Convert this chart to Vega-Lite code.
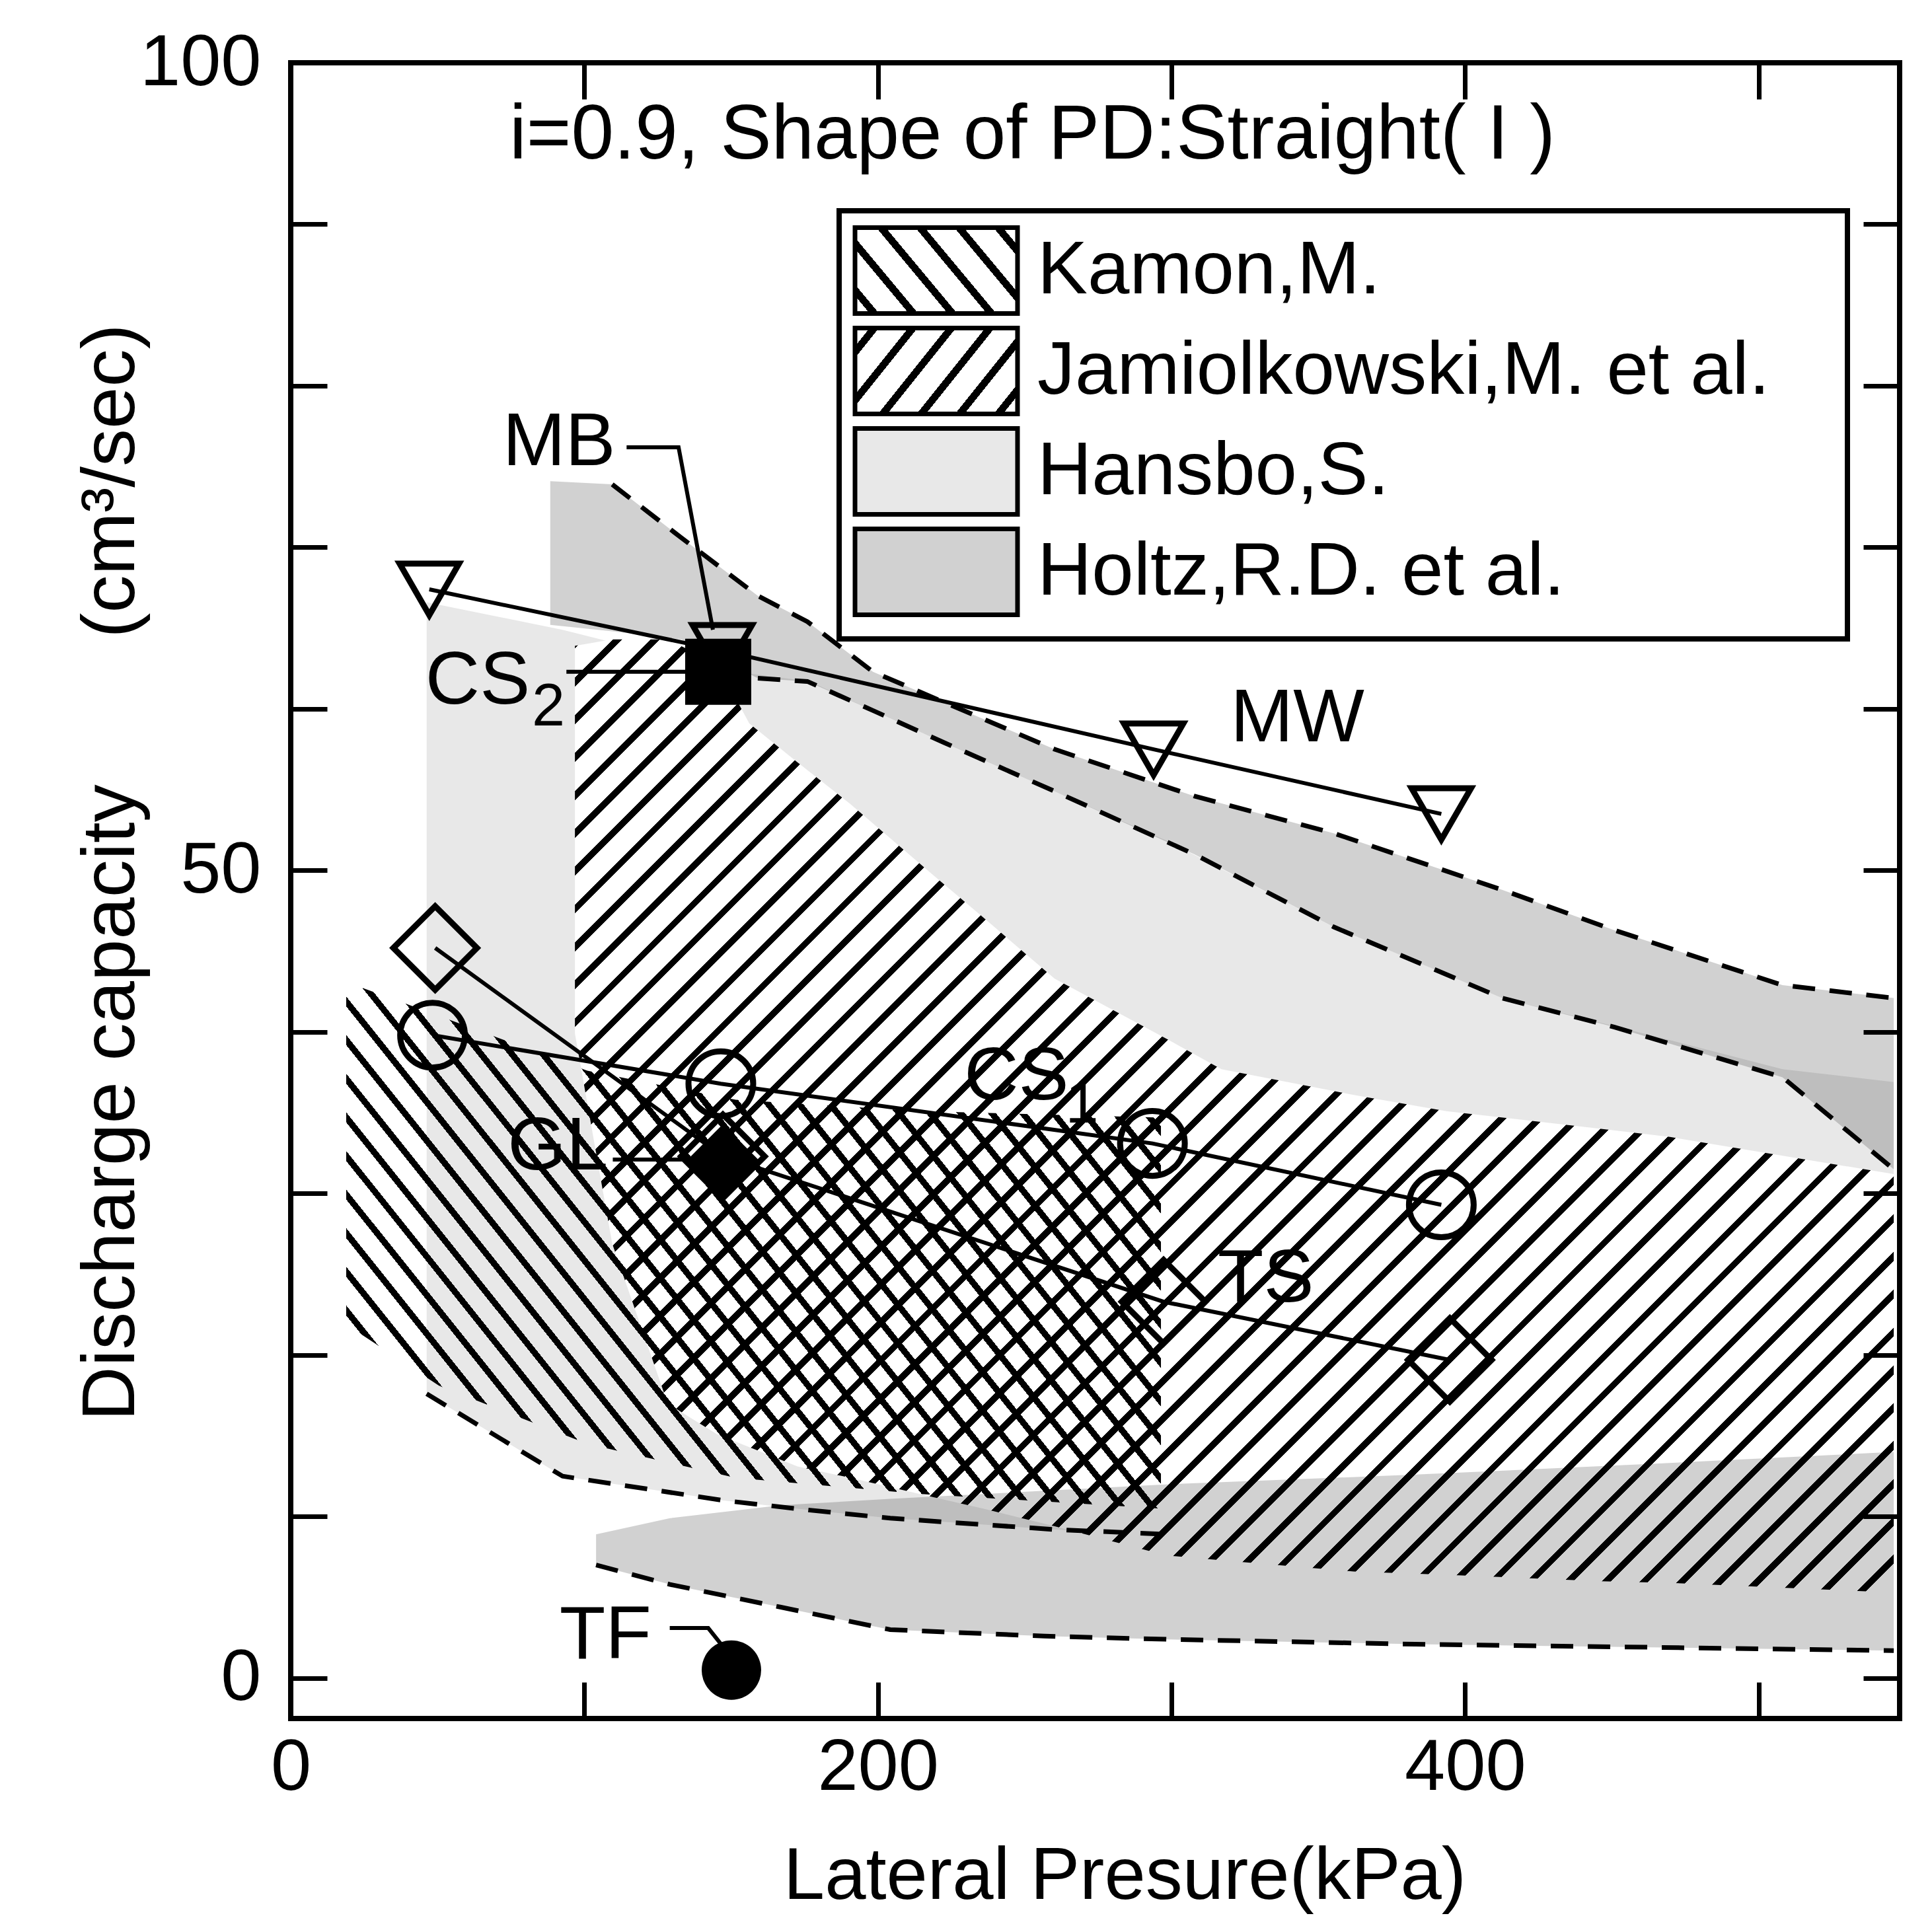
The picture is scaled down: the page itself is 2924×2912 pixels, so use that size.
{
"$schema":"https://vega.github.io/schema/vega-lite/v6.json",
"width":2435,"height":2506,
"autosize":{"type":"none"},
"padding":{"left":440,"top":95,"right":49,"bottom":311},
"background":"white",
"config":{"font":"Liberation Sans","view":{"stroke":"black","strokeWidth":8},"axis":{"labelColor":"black","titleColor":"black","tickColor":"black","labelFont":"Liberation Sans","titleFont":"Liberation Sans","titleFontWeight":"normal","grid":false,"domain":false,"labelLimit":1000}},
"datasets":{
"hansbo":[{"x":46.3,"top":66.6,"bottom":17.6},{"x":92.6,"top":64.9,"bottom":12.5},{"x":147.4,"top":62.4,"bottom":11.0},{"x":176.8,"top":61.7,"bottom":10.4},{"x":204.2,"top":59.4,"bottom":9.9},{"x":260.2,"top":54.9,"bottom":9.2},{"x":298.9,"top":51.8,"bottom":8.9},{"x":355.3,"top":46.5,"bottom":8.3},{"x":412.6,"top":42.1,"bottom":7.9},{"x":469.8,"top":39.5,"bottom":7.6},{"x":508.1,"top":37.7,"bottom":7.4},{"x":546.0,"top":36.9,"bottom":7.2}],
"holtzU":[{"x":88.4,"top":74.1,"bottom":65.2},{"x":109.5,"top":73.9,"bottom":64.8},{"x":133.0,"top":70.6,"bottom":64.3},{"x":159.1,"top":67.0,"bottom":61.9},{"x":176.0,"top":65.4,"bottom":61.7},{"x":198.3,"top":62.3,"bottom":59.9},{"x":222.7,"top":60.4,"bottom":57.9},{"x":260.2,"top":57.5,"bottom":54.9},{"x":307.8,"top":54.6,"bottom":51.0},{"x":355.3,"top":52.3,"bottom":46.5},{"x":412.6,"top":48.8,"bottom":42.1},{"x":450.9,"top":46.3,"bottom":40.3},{"x":508.1,"top":42.9,"bottom":37.2},{"x":546.0,"top":42.1,"bottom":31.5}],
"jamiol":[{"x":96.8,"top":63.9,"bottom":39.9},{"x":109.5,"top":64.3,"bottom":26.9},{"x":128.4,"top":64.3,"bottom":17.0},{"x":145.2,"top":62.8,"bottom":15.1},{"x":156.2,"top":59.1,"bottom":14.3},{"x":172.6,"top":56.7,"bottom":13.1},{"x":190.7,"top":54.1,"bottom":12.4},{"x":218.9,"top":49.7,"bottom":11.2},{"x":235.8,"top":47.1,"bottom":10.5},{"x":260.2,"top":43.3,"bottom":9.4},{"x":298.1,"top":39.6,"bottom":7.6},{"x":317.0,"top":37.7,"bottom":7.3},{"x":362.1,"top":36.1,"bottom":6.6},{"x":393.6,"top":35.1,"bottom":6.4},{"x":446.3,"top":34.0,"bottom":6.0},{"x":469.8,"top":33.5,"bottom":5.9},{"x":546.0,"top":31.2,"bottom":5.3}],
"holtzL":[{"x":104.0,"top":8.9,"bottom":7.0},{"x":129.2,"top":9.9,"bottom":5.8},{"x":166.7,"top":10.7,"bottom":4.4},{"x":204.2,"top":11.1,"bottom":3.0},{"x":256.8,"top":11.6,"bottom":2.6},{"x":298.9,"top":12.0,"bottom":2.4},{"x":383.1,"top":12.6,"bottom":2.1},{"x":467.3,"top":13.3,"bottom":1.9},{"x":546.0,"top":14.0,"bottom":1.7}],
"kamon":[{"author":"Kamon,M.","x":18.9,"top":43.1,"bottom":21.9},{"author":"Kamon,M.","x":50.5,"top":41.0,"bottom":18.1},{"author":"Kamon,M.","x":101.0,"top":37.6,"bottom":14.5},{"author":"Kamon,M.","x":151.6,"top":35.8,"bottom":12.4},{"author":"Kamon,M.","x":214.7,"top":35.1,"bottom":11.4},{"author":"Kamon,M.","x":296.4,"top":34.7,"bottom":10.5}],
"series":[{"s":"MW","x":47.2,"y":67.4},{"s":"MW","x":147,"y":63.6},{"s":"MW","x":293.9,"y":57.5},{"s":"MW","x":391.9,"y":53.5},{"s":"CS1","x":48.3,"y":39.8},{"s":"CS1","x":146.5,"y":36.8},{"s":"CS1","x":293.5,"y":33.1},{"s":"CS1","x":391.9,"y":29.3},{"s":"TS","x":49.2,"y":45.2},{"s":"TS","x":147.2,"y":32.3},{"s":"TS","x":297.3,"y":23.3},{"s":"TS","x":394.8,"y":19.7},{"s":"MB","x":145.6,"y":62.3},{"s":"GL","x":147.2,"y":32.0},{"s":"TF","x":150.1,"y":0.5}],
"pointers":[{"id":"MB","o":1,"x":114.4,"y":76.2},{"id":"MB","o":2,"x":132.1,"y":76.2},{"id":"MB","o":3,"x":143.8,"y":64.9},{"id":"CS2","o":1,"x":93.9,"y":62.3},{"id":"CS2","o":2,"x":135.7,"y":62.3},{"id":"GL","o":1,"x":109.7,"y":32.1},{"id":"GL","o":2,"x":134.5,"y":32.1},{"id":"TF","o":1,"x":129.1,"y":3.1},{"id":"TF","o":2,"x":142.2,"y":3.1},{"id":"TF","o":3,"x":147.9,"y":1.8}],
"labels":[{"t":"MB","x":91.4,"y":76.5},{"t":"CS","x":63.7,"y":61.7},{"t":"MW","x":342.9,"y":59.4},{"t":"CS","x":247.2,"y":37.2},{"t":"GL","x":91.0,"y":32.9},{"t":"TS","x":332.1,"y":24.7},{"t":"TF","x":107.2,"y":2.6}],
"subs":[{"t":"2","x":87.8,"y":60.1},{"t":"1","x":269.5,"y":35.5}],
"title":[{"t":"i=0.9, Shape of PD:Straight( I )","x":252.6,"y":95.5}]
},
"resolve":{"axis":{"x":"independent","y":"independent"}},
"layer":[
{"data":{"name":"hansbo"},
"mark":{"type":"area","fill":"#e8e8e8","opacity":1},
"encoding":{
"x":{"field":"x","type":"quantitative","scale":{"domain":[0,548],"nice":false,"zero":false},"axis":{"orient":"bottom","values":[0,200,400],"ticks":false,"domain":false,"labelFontSize":110,"labelPadding":20,"labelFlush":false,"labelOverlap":false,"title":"Lateral Presure(kPa)","titleFontSize":112,"titleX":1262,"titleY":272,"titleAlign":"center","titleBaseline":"alphabetic"}},
"y":{"field":"top","type":"quantitative","scale":{"domain":[-2.5,100],"nice":false,"zero":false},"axis":{"orient":"left","values":[0,50,100],"ticks":false,"domain":false,"labelFontSize":110,"labelPadding":45,"labelFlush":false,"labelOverlap":false,"title":"Discharge capacity\u00a0\u00a0\u00a0\u00a0\u00a0\u00a0\u00a0(cm\u00b3/sec)","titleFontSize":114,"titleX":-272,"titleY":1225,"titleAngle":-90,"titleAlign":"center","titleBaseline":"middle"}},
"y2":{"field":"bottom"}}},
{"data":{"name":"holtzU"},
"mark":{"type":"area","fill":"rgba(0,0,0,0.18)","opacity":1},
"encoding":{
"x":{"field":"x","type":"quantitative","scale":{"domain":[0,548],"nice":false,"zero":false},"axis":{"orient":"bottom","values":[100,200,300,400,500],"labels":false,"domain":false,"ticks":true,"tickSize":55,"tickWidth":7,"offset":-55,"title":null,"zindex":1}},
"y":{"field":"top","type":"quantitative","scale":{"domain":[-2.5,100],"nice":false,"zero":false},"axis":{"orient":"left","values":[0,10,20,30,40,50,60,70,80,90],"labels":false,"domain":false,"ticks":true,"tickSize":55,"tickWidth":7,"offset":-55,"title":null,"zindex":1}},
"y2":{"field":"bottom"}}},
{"data":{"name":"jamiol"},
"mark":{"type":"area","opacity":1,"fill":{"gradient":"linear","x1":0,"y1":0,"x2":1.1316,"y2":0.8178,"stops":[
{"offset":0,"color":"#000"},{"offset":0.004,"color":"#000"},{"offset":0.004,"color":"#fff"},{"offset":0.0167,"color":"#fff"},
{"offset":0.0167,"color":"#000"},{"offset":0.0207,"color":"#000"},{"offset":0.0207,"color":"#fff"},{"offset":0.0333,"color":"#fff"},
{"offset":0.0333,"color":"#000"},{"offset":0.0373,"color":"#000"},{"offset":0.0373,"color":"#fff"},{"offset":0.05,"color":"#fff"},
{"offset":0.05,"color":"#000"},{"offset":0.054,"color":"#000"},{"offset":0.054,"color":"#fff"},{"offset":0.0667,"color":"#fff"},
{"offset":0.0667,"color":"#000"},{"offset":0.0707,"color":"#000"},{"offset":0.0707,"color":"#fff"},{"offset":0.0833,"color":"#fff"},
{"offset":0.0833,"color":"#000"},{"offset":0.0873,"color":"#000"},{"offset":0.0873,"color":"#fff"},{"offset":0.1,"color":"#fff"},
{"offset":0.1,"color":"#000"},{"offset":0.104,"color":"#000"},{"offset":0.104,"color":"#fff"},{"offset":0.1167,"color":"#fff"},
{"offset":0.1167,"color":"#000"},{"offset":0.1207,"color":"#000"},{"offset":0.1207,"color":"#fff"},{"offset":0.1333,"color":"#fff"},
{"offset":0.1333,"color":"#000"},{"offset":0.1373,"color":"#000"},{"offset":0.1373,"color":"#fff"},{"offset":0.15,"color":"#fff"},
{"offset":0.15,"color":"#000"},{"offset":0.154,"color":"#000"},{"offset":0.154,"color":"#fff"},{"offset":0.1667,"color":"#fff"},
{"offset":0.1667,"color":"#000"},{"offset":0.1707,"color":"#000"},{"offset":0.1707,"color":"#fff"},{"offset":0.1833,"color":"#fff"},
{"offset":0.1833,"color":"#000"},{"offset":0.1873,"color":"#000"},{"offset":0.1873,"color":"#fff"},{"offset":0.2,"color":"#fff"},
{"offset":0.2,"color":"#000"},{"offset":0.204,"color":"#000"},{"offset":0.204,"color":"#fff"},{"offset":0.2167,"color":"#fff"},
{"offset":0.2167,"color":"#000"},{"offset":0.2207,"color":"#000"},{"offset":0.2207,"color":"#fff"},{"offset":0.2333,"color":"#fff"},
{"offset":0.2333,"color":"#000"},{"offset":0.2373,"color":"#000"},{"offset":0.2373,"color":"#fff"},{"offset":0.25,"color":"#fff"},
{"offset":0.25,"color":"#000"},{"offset":0.254,"color":"#000"},{"offset":0.254,"color":"#fff"},{"offset":0.2667,"color":"#fff"},
{"offset":0.2667,"color":"#000"},{"offset":0.2707,"color":"#000"},{"offset":0.2707,"color":"#fff"},{"offset":0.2833,"color":"#fff"},
{"offset":0.2833,"color":"#000"},{"offset":0.2873,"color":"#000"},{"offset":0.2873,"color":"#fff"},{"offset":0.3,"color":"#fff"},
{"offset":0.3,"color":"#000"},{"offset":0.304,"color":"#000"},{"offset":0.304,"color":"#fff"},{"offset":0.3167,"color":"#fff"},
{"offset":0.3167,"color":"#000"},{"offset":0.3207,"color":"#000"},{"offset":0.3207,"color":"#fff"},{"offset":0.3333,"color":"#fff"},
{"offset":0.3333,"color":"#000"},{"offset":0.3373,"color":"#000"},{"offset":0.3373,"color":"#fff"},{"offset":0.35,"color":"#fff"},
{"offset":0.35,"color":"#000"},{"offset":0.354,"color":"#000"},{"offset":0.354,"color":"#fff"},{"offset":0.3667,"color":"#fff"},
{"offset":0.3667,"color":"#000"},{"offset":0.3707,"color":"#000"},{"offset":0.3707,"color":"#fff"},{"offset":0.3833,"color":"#fff"},
{"offset":0.3833,"color":"#000"},{"offset":0.3873,"color":"#000"},{"offset":0.3873,"color":"#fff"},{"offset":0.4,"color":"#fff"},
{"offset":0.4,"color":"#000"},{"offset":0.404,"color":"#000"},{"offset":0.404,"color":"#fff"},{"offset":0.4167,"color":"#fff"},
{"offset":0.4167,"color":"#000"},{"offset":0.4207,"color":"#000"},{"offset":0.4207,"color":"#fff"},{"offset":0.4333,"color":"#fff"},
{"offset":0.4333,"color":"#000"},{"offset":0.4373,"color":"#000"},{"offset":0.4373,"color":"#fff"},{"offset":0.45,"color":"#fff"},
{"offset":0.45,"color":"#000"},{"offset":0.454,"color":"#000"},{"offset":0.454,"color":"#fff"},{"offset":0.4667,"color":"#fff"},
{"offset":0.4667,"color":"#000"},{"offset":0.4707,"color":"#000"},{"offset":0.4707,"color":"#fff"},{"offset":0.4833,"color":"#fff"},
{"offset":0.4833,"color":"#000"},{"offset":0.4873,"color":"#000"},{"offset":0.4873,"color":"#fff"},{"offset":0.5,"color":"#fff"},
{"offset":0.5,"color":"#000"},{"offset":0.504,"color":"#000"},{"offset":0.504,"color":"#fff"},{"offset":0.5167,"color":"#fff"},
{"offset":0.5167,"color":"#000"},{"offset":0.5207,"color":"#000"},{"offset":0.5207,"color":"#fff"},{"offset":0.5333,"color":"#fff"},
{"offset":0.5333,"color":"#000"},{"offset":0.5373,"color":"#000"},{"offset":0.5373,"color":"#fff"},{"offset":0.55,"color":"#fff"},
{"offset":0.55,"color":"#000"},{"offset":0.554,"color":"#000"},{"offset":0.554,"color":"#fff"},{"offset":0.5667,"color":"#fff"},
{"offset":0.5667,"color":"#000"},{"offset":0.5707,"color":"#000"},{"offset":0.5707,"color":"#fff"},{"offset":0.5833,"color":"#fff"},
{"offset":0.5833,"color":"#000"},{"offset":0.5873,"color":"#000"},{"offset":0.5873,"color":"#fff"},{"offset":0.6,"color":"#fff"},
{"offset":0.6,"color":"#000"},{"offset":0.604,"color":"#000"},{"offset":0.604,"color":"#fff"},{"offset":0.6167,"color":"#fff"},
{"offset":0.6167,"color":"#000"},{"offset":0.6207,"color":"#000"},{"offset":0.6207,"color":"#fff"},{"offset":0.6333,"color":"#fff"},
{"offset":0.6333,"color":"#000"},{"offset":0.6373,"color":"#000"},{"offset":0.6373,"color":"#fff"},{"offset":0.65,"color":"#fff"},
{"offset":0.65,"color":"#000"},{"offset":0.654,"color":"#000"},{"offset":0.654,"color":"#fff"},{"offset":0.6667,"color":"#fff"},
{"offset":0.6667,"color":"#000"},{"offset":0.6707,"color":"#000"},{"offset":0.6707,"color":"#fff"},{"offset":0.6833,"color":"#fff"},
{"offset":0.6833,"color":"#000"},{"offset":0.6873,"color":"#000"},{"offset":0.6873,"color":"#fff"},{"offset":0.7,"color":"#fff"},
{"offset":0.7,"color":"#000"},{"offset":0.704,"color":"#000"},{"offset":0.704,"color":"#fff"},{"offset":0.7167,"color":"#fff"},
{"offset":0.7167,"color":"#000"},{"offset":0.7207,"color":"#000"},{"offset":0.7207,"color":"#fff"},{"offset":0.7333,"color":"#fff"},
{"offset":0.7333,"color":"#000"},{"offset":0.7373,"color":"#000"},{"offset":0.7373,"color":"#fff"},{"offset":0.75,"color":"#fff"},
{"offset":0.75,"color":"#000"},{"offset":0.754,"color":"#000"},{"offset":0.754,"color":"#fff"},{"offset":0.7667,"color":"#fff"},
{"offset":0.7667,"color":"#000"},{"offset":0.7707,"color":"#000"},{"offset":0.7707,"color":"#fff"},{"offset":0.7833,"color":"#fff"},
{"offset":0.7833,"color":"#000"},{"offset":0.7873,"color":"#000"},{"offset":0.7873,"color":"#fff"},{"offset":0.8,"color":"#fff"},
{"offset":0.8,"color":"#000"},{"offset":0.804,"color":"#000"},{"offset":0.804,"color":"#fff"},{"offset":0.8167,"color":"#fff"},
{"offset":0.8167,"color":"#000"},{"offset":0.8207,"color":"#000"},{"offset":0.8207,"color":"#fff"},{"offset":0.8333,"color":"#fff"},
{"offset":0.8333,"color":"#000"},{"offset":0.8373,"color":"#000"},{"offset":0.8373,"color":"#fff"},{"offset":0.85,"color":"#fff"},
{"offset":0.85,"color":"#000"},{"offset":0.854,"color":"#000"},{"offset":0.854,"color":"#fff"},{"offset":0.8667,"color":"#fff"},
{"offset":0.8667,"color":"#000"},{"offset":0.8707,"color":"#000"},{"offset":0.8707,"color":"#fff"},{"offset":0.8833,"color":"#fff"},
{"offset":0.8833,"color":"#000"},{"offset":0.8873,"color":"#000"},{"offset":0.8873,"color":"#fff"},{"offset":0.9,"color":"#fff"},
{"offset":0.9,"color":"#000"},{"offset":0.904,"color":"#000"},{"offset":0.904,"color":"#fff"},{"offset":0.9167,"color":"#fff"},
{"offset":0.9167,"color":"#000"},{"offset":0.9207,"color":"#000"},{"offset":0.9207,"color":"#fff"},{"offset":0.9333,"color":"#fff"},
{"offset":0.9333,"color":"#000"},{"offset":0.9373,"color":"#000"},{"offset":0.9373,"color":"#fff"},{"offset":0.95,"color":"#fff"},
{"offset":0.95,"color":"#000"},{"offset":0.954,"color":"#000"},{"offset":0.954,"color":"#fff"},{"offset":0.9667,"color":"#fff"},
{"offset":0.9667,"color":"#000"},{"offset":0.9707,"color":"#000"},{"offset":0.9707,"color":"#fff"},{"offset":0.9833,"color":"#fff"},
{"offset":0.9833,"color":"#000"},{"offset":0.9873,"color":"#000"},{"offset":0.9873,"color":"#fff"},{"offset":1,"color":"#fff"}
]}},
"encoding":{
"x":{"field":"x","type":"quantitative","scale":{"domain":[0,548],"nice":false,"zero":false},"axis":{"orient":"top","values":[100,200,300,400,500],"labels":false,"domain":false,"ticks":true,"tickSize":55,"tickWidth":7,"offset":-55,"title":null,"zindex":1}},
"y":{"field":"top","type":"quantitative","scale":{"domain":[-2.5,100],"nice":false,"zero":false},"axis":{"orient":"right","values":[0,10,20,30,40,50,60,70,80,90],"labels":false,"domain":false,"ticks":true,"tickSize":55,"tickWidth":7,"offset":-55,"title":null,"zindex":1}},
"y2":{"field":"bottom"}}},
{"data":{"name":"holtzL"},
"mark":{"type":"area","fill":"rgba(0,0,0,0.18)","opacity":1},
"encoding":{
"x":{"field":"x","type":"quantitative","scale":{"domain":[0,548],"nice":false,"zero":false},"axis":null},
"y":{"field":"top","type":"quantitative","scale":{"domain":[-2.5,100],"nice":false,"zero":false},"axis":null},
"y2":{"field":"bottom"}}},
{"data":{"name":"kamon"},
"mark":{"type":"area","opacity":1,"fill":{"gradient":"linear","x1":0,"y1":1,"x2":1.197,"y2":0.3809,"stops":[
{"offset":0,"color":"#000"},{"offset":0.0065,"color":"#000"},{"offset":0.0065,"color":"transparent"},{"offset":0.025,"color":"transparent"},
{"offset":0.025,"color":"#000"},{"offset":0.0315,"color":"#000"},{"offset":0.0315,"color":"transparent"},{"offset":0.05,"color":"transparent"},
{"offset":0.05,"color":"#000"},{"offset":0.0565,"color":"#000"},{"offset":0.0565,"color":"transparent"},{"offset":0.075,"color":"transparent"},
{"offset":0.075,"color":"#000"},{"offset":0.0815,"color":"#000"},{"offset":0.0815,"color":"transparent"},{"offset":0.1,"color":"transparent"},
{"offset":0.1,"color":"#000"},{"offset":0.1065,"color":"#000"},{"offset":0.1065,"color":"transparent"},{"offset":0.125,"color":"transparent"},
{"offset":0.125,"color":"#000"},{"offset":0.1315,"color":"#000"},{"offset":0.1315,"color":"transparent"},{"offset":0.15,"color":"transparent"},
{"offset":0.15,"color":"#000"},{"offset":0.1565,"color":"#000"},{"offset":0.1565,"color":"transparent"},{"offset":0.175,"color":"transparent"},
{"offset":0.175,"color":"#000"},{"offset":0.1815,"color":"#000"},{"offset":0.1815,"color":"transparent"},{"offset":0.2,"color":"transparent"},
{"offset":0.2,"color":"#000"},{"offset":0.2065,"color":"#000"},{"offset":0.2065,"color":"transparent"},{"offset":0.225,"color":"transparent"},
{"offset":0.225,"color":"#000"},{"offset":0.2315,"color":"#000"},{"offset":0.2315,"color":"transparent"},{"offset":0.25,"color":"transparent"},
{"offset":0.25,"color":"#000"},{"offset":0.2565,"color":"#000"},{"offset":0.2565,"color":"transparent"},{"offset":0.275,"color":"transparent"},
{"offset":0.275,"color":"#000"},{"offset":0.2815,"color":"#000"},{"offset":0.2815,"color":"transparent"},{"offset":0.3,"color":"transparent"},
{"offset":0.3,"color":"#000"},{"offset":0.3065,"color":"#000"},{"offset":0.3065,"color":"transparent"},{"offset":0.325,"color":"transparent"},
{"offset":0.325,"color":"#000"},{"offset":0.3315,"color":"#000"},{"offset":0.3315,"color":"transparent"},{"offset":0.35,"color":"transparent"},
{"offset":0.35,"color":"#000"},{"offset":0.3565,"color":"#000"},{"offset":0.3565,"color":"transparent"},{"offset":0.375,"color":"transparent"},
{"offset":0.375,"color":"#000"},{"offset":0.3815,"color":"#000"},{"offset":0.3815,"color":"transparent"},{"offset":0.4,"color":"transparent"},
{"offset":0.4,"color":"#000"},{"offset":0.4065,"color":"#000"},{"offset":0.4065,"color":"transparent"},{"offset":0.425,"color":"transparent"},
{"offset":0.425,"color":"#000"},{"offset":0.4315,"color":"#000"},{"offset":0.4315,"color":"transparent"},{"offset":0.45,"color":"transparent"},
{"offset":0.45,"color":"#000"},{"offset":0.4565,"color":"#000"},{"offset":0.4565,"color":"transparent"},{"offset":0.475,"color":"transparent"},
{"offset":0.475,"color":"#000"},{"offset":0.4815,"color":"#000"},{"offset":0.4815,"color":"transparent"},{"offset":0.5,"color":"transparent"},
{"offset":0.5,"color":"#000"},{"offset":0.5065,"color":"#000"},{"offset":0.5065,"color":"transparent"},{"offset":0.525,"color":"transparent"},
{"offset":0.525,"color":"#000"},{"offset":0.5315,"color":"#000"},{"offset":0.5315,"color":"transparent"},{"offset":0.55,"color":"transparent"},
{"offset":0.55,"color":"#000"},{"offset":0.5565,"color":"#000"},{"offset":0.5565,"color":"transparent"},{"offset":0.575,"color":"transparent"},
{"offset":0.575,"color":"#000"},{"offset":0.5815,"color":"#000"},{"offset":0.5815,"color":"transparent"},{"offset":0.6,"color":"transparent"},
{"offset":0.6,"color":"#000"},{"offset":0.6065,"color":"#000"},{"offset":0.6065,"color":"transparent"},{"offset":0.625,"color":"transparent"},
{"offset":0.625,"color":"#000"},{"offset":0.6315,"color":"#000"},{"offset":0.6315,"color":"transparent"},{"offset":0.65,"color":"transparent"},
{"offset":0.65,"color":"#000"},{"offset":0.6565,"color":"#000"},{"offset":0.6565,"color":"transparent"},{"offset":0.675,"color":"transparent"},
{"offset":0.675,"color":"#000"},{"offset":0.6815,"color":"#000"},{"offset":0.6815,"color":"transparent"},{"offset":0.7,"color":"transparent"},
{"offset":0.7,"color":"#000"},{"offset":0.7065,"color":"#000"},{"offset":0.7065,"color":"transparent"},{"offset":0.725,"color":"transparent"},
{"offset":0.725,"color":"#000"},{"offset":0.7315,"color":"#000"},{"offset":0.7315,"color":"transparent"},{"offset":0.75,"color":"transparent"},
{"offset":0.75,"color":"#000"},{"offset":0.7565,"color":"#000"},{"offset":0.7565,"color":"transparent"},{"offset":0.775,"color":"transparent"},
{"offset":0.775,"color":"#000"},{"offset":0.7815,"color":"#000"},{"offset":0.7815,"color":"transparent"},{"offset":0.8,"color":"transparent"},
{"offset":0.8,"color":"#000"},{"offset":0.8065,"color":"#000"},{"offset":0.8065,"color":"transparent"},{"offset":0.825,"color":"transparent"},
{"offset":0.825,"color":"#000"},{"offset":0.8315,"color":"#000"},{"offset":0.8315,"color":"transparent"},{"offset":0.85,"color":"transparent"},
{"offset":0.85,"color":"#000"},{"offset":0.8565,"color":"#000"},{"offset":0.8565,"color":"transparent"},{"offset":0.875,"color":"transparent"},
{"offset":0.875,"color":"#000"},{"offset":0.8815,"color":"#000"},{"offset":0.8815,"color":"transparent"},{"offset":0.9,"color":"transparent"},
{"offset":0.9,"color":"#000"},{"offset":0.9065,"color":"#000"},{"offset":0.9065,"color":"transparent"},{"offset":0.925,"color":"transparent"},
{"offset":0.925,"color":"#000"},{"offset":0.9315,"color":"#000"},{"offset":0.9315,"color":"transparent"},{"offset":0.95,"color":"transparent"},
{"offset":0.95,"color":"#000"},{"offset":0.9565,"color":"#000"},{"offset":0.9565,"color":"transparent"},{"offset":0.975,"color":"transparent"},
{"offset":0.975,"color":"#000"},{"offset":0.9815,"color":"#000"},{"offset":0.9815,"color":"transparent"},{"offset":1,"color":"transparent"}
]}},
"encoding":{
"x":{"field":"x","type":"quantitative","scale":{"domain":[0,548],"nice":false,"zero":false},"axis":null},
"y":{"field":"top","type":"quantitative","scale":{"domain":[-2.5,100],"nice":false,"zero":false},"axis":null},
"y2":{"field":"bottom"},
"stroke":{"field":"author","type":"nominal",
"scale":{"domain":["Kamon,M.","Jamiolkowski,M. et al.","Hansbo,S.","Holtz,R.D. et al."],"range":["black","black","black","black"]},
"condition":{"test":"true","value":null},
"legend":{"orient":"none","legendX":830,"legendY":224,"title":null,"padding":22,"strokeColor":"black","fillColor":"white",
"symbolType":"M-1.892,-1H1.892V1H-1.892Z","symbolSize":16900,"symbolStrokeWidth":7,"symbolOpacity":1,"symbolOffset":56.5,
"labelOffset":84.5,"rowPadding":-7,"labelFontSize":114,"labelFont":"Liberation Sans","labelColor":"black","labelLimit":3000,
"labelExpr":"datum.label === 'Jamiolkowski,M. et al.' ? datum.label + '\u00a0\u00a0\u00a0\u200b' : datum.label",
"encoding":{
"legend":{"strokeWidth":{"value":8}},
"symbols":{
"fill":{"condition":[
{"test":"datum.value === 'Kamon,M.'","value":{"gradient":"linear","x1":0,"y1":1,"x2":1.2064,"y2":0.4687,"stops":[{"offset":0,"color":"#fff"},{"offset":0.0633,"color":"#fff"},{"offset":0.0633,"color":"#000"},{"offset":0.1033,"color":"#000"},{"offset":0.1033,"color":"#fff"},{"offset":0.23,"color":"#fff"},{"offset":0.23,"color":"#000"},{"offset":0.27,"color":"#000"},{"offset":0.27,"color":"#fff"},{"offset":0.3967,"color":"#fff"},{"offset":0.3967,"color":"#000"},{"offset":0.4367,"color":"#000"},{"offset":0.4367,"color":"#fff"},{"offset":0.5633,"color":"#fff"},{"offset":0.5633,"color":"#000"},{"offset":0.6033,"color":"#000"},{"offset":0.6033,"color":"#fff"},{"offset":0.73,"color":"#fff"},{"offset":0.73,"color":"#000"},{"offset":0.77,"color":"#000"},{"offset":0.77,"color":"#fff"},{"offset":0.8967,"color":"#fff"},{"offset":0.8967,"color":"#000"},{"offset":0.9367,"color":"#000"},{"offset":0.9367,"color":"#fff"},{"offset":1,"color":"#fff"}]}},
{"test":"datum.value === 'Jamiolkowski,M. et al.'","value":{"gradient":"linear","x1":0,"y1":0,"x2":1.207,"y2":0.5103,"stops":[{"offset":0,"color":"#fff"},{"offset":0.0633,"color":"#fff"},{"offset":0.0633,"color":"#000"},{"offset":0.1033,"color":"#000"},{"offset":0.1033,"color":"#fff"},{"offset":0.23,"color":"#fff"},{"offset":0.23,"color":"#000"},{"offset":0.27,"color":"#000"},{"offset":0.27,"color":"#fff"},{"offset":0.3967,"color":"#fff"},{"offset":0.3967,"color":"#000"},{"offset":0.4367,"color":"#000"},{"offset":0.4367,"color":"#fff"},{"offset":0.5633,"color":"#fff"},{"offset":0.5633,"color":"#000"},{"offset":0.6033,"color":"#000"},{"offset":0.6033,"color":"#fff"},{"offset":0.73,"color":"#fff"},{"offset":0.73,"color":"#000"},{"offset":0.77,"color":"#000"},{"offset":0.77,"color":"#fff"},{"offset":0.8967,"color":"#fff"},{"offset":0.8967,"color":"#000"},{"offset":0.9367,"color":"#000"},{"offset":0.9367,"color":"#fff"},{"offset":1,"color":"#fff"}]}},
{"test":"datum.value === 'Hansbo,S.'","value":"#e8e8e8"}],"value":"#d1d1d1"},
"strokeWidth":{"value":7},"opacity":{"value":1}}}}}}},
{"data":{"name":"holtzU"},"transform":[{"filter":"datum.x >= 109"}],"mark":{"type":"line","stroke":"black","strokeWidth":7,"strokeDash":[34,22]},
"encoding":{"x":{"field":"x","type":"quantitative","scale":{"domain":[0,548],"nice":false,"zero":false},"axis":null},"y":{"field":"top","type":"quantitative","scale":{"domain":[-2.5,100],"nice":false,"zero":false},"axis":null}}},
{"data":{"name":"holtzU"},"transform":[{"filter":"datum.x >= 150"}],"mark":{"type":"line","stroke":"black","strokeWidth":7,"strokeDash":[34,22]},
"encoding":{"x":{"field":"x","type":"quantitative","scale":{"domain":[0,548],"nice":false,"zero":false},"axis":null},"y":{"field":"bottom","type":"quantitative","scale":{"domain":[-2.5,100],"nice":false,"zero":false},"axis":null}}},
{"data":{"name":"hansbo"},"transform":[{"filter":"datum.x <= 300"}],"mark":{"type":"line","stroke":"black","strokeWidth":7,"strokeDash":[34,22]},
"encoding":{"x":{"field":"x","type":"quantitative","scale":{"domain":[0,548],"nice":false,"zero":false},"axis":null},"y":{"field":"bottom","type":"quantitative","scale":{"domain":[-2.5,100],"nice":false,"zero":false},"axis":null}}},
{"data":{"name":"holtzL"},"mark":{"type":"line","stroke":"black","strokeWidth":7,"strokeDash":[34,22]},
"encoding":{"x":{"field":"x","type":"quantitative","scale":{"domain":[0,548],"nice":false,"zero":false},"axis":null},"y":{"field":"bottom","type":"quantitative","scale":{"domain":[-2.5,100],"nice":false,"zero":false},"axis":null}}},
{"data":{"name":"series"},"transform":[{"filter":"datum.s === 'MW' || datum.s === 'CS1' || datum.s === 'TS'"}],"mark":{"type":"line","stroke":"black","strokeWidth":6},
"encoding":{"x":{"field":"x","type":"quantitative","scale":{"domain":[0,548],"nice":false,"zero":false},"axis":null},"y":{"field":"y","type":"quantitative","scale":{"domain":[-2.5,100],"nice":false,"zero":false},"axis":null},"detail":{"field":"s"}}},
{"data":{"name":"pointers"},"mark":{"type":"line","stroke":"black","strokeWidth":6},
"encoding":{"x":{"field":"x","type":"quantitative","scale":{"domain":[0,548],"nice":false,"zero":false},"axis":null},"y":{"field":"y","type":"quantitative","scale":{"domain":[-2.5,100],"nice":false,"zero":false},"axis":null},"detail":{"field":"id"},"order":{"field":"o"}}},
{"data":{"name":"series"},"transform":[{"filter":"datum.s === 'MW'"}],"mark":{"type":"point","shape":"triangle-down","size":8100,"filled":false,"stroke":"black","strokeWidth":9,"opacity":1},
"encoding":{"x":{"field":"x","type":"quantitative","scale":{"domain":[0,548],"nice":false,"zero":false},"axis":null},"y":{"field":"y","type":"quantitative","scale":{"domain":[-2.5,100],"nice":false,"zero":false},"axis":null}}},
{"data":{"name":"series"},"transform":[{"filter":"datum.s === 'CS1'"}],"mark":{"type":"point","shape":"circle","size":9600,"filled":false,"stroke":"black","strokeWidth":9,"opacity":1},
"encoding":{"x":{"field":"x","type":"quantitative","scale":{"domain":[0,548],"nice":false,"zero":false},"axis":null},"y":{"field":"y","type":"quantitative","scale":{"domain":[-2.5,100],"nice":false,"zero":false},"axis":null}}},
{"data":{"name":"series"},"transform":[{"filter":"datum.s === 'TS'"}],"mark":{"type":"point","shape":"diamond","size":16000,"filled":false,"stroke":"black","strokeWidth":9,"opacity":1},
"encoding":{"x":{"field":"x","type":"quantitative","scale":{"domain":[0,548],"nice":false,"zero":false},"axis":null},"y":{"field":"y","type":"quantitative","scale":{"domain":[-2.5,100],"nice":false,"zero":false},"axis":null}}},
{"data":{"name":"series"},"transform":[{"filter":"datum.s === 'MB'"}],"mark":{"type":"point","shape":"square","size":10000,"filled":true,"fill":"black","opacity":1},
"encoding":{"x":{"field":"x","type":"quantitative","scale":{"domain":[0,548],"nice":false,"zero":false},"axis":null},"y":{"field":"y","type":"quantitative","scale":{"domain":[-2.5,100],"nice":false,"zero":false},"axis":null}}},
{"data":{"name":"series"},"transform":[{"filter":"datum.s === 'GL'"}],"mark":{"type":"point","shape":"diamond","size":12500,"filled":true,"fill":"black","opacity":1},
"encoding":{"x":{"field":"x","type":"quantitative","scale":{"domain":[0,548],"nice":false,"zero":false},"axis":null},"y":{"field":"y","type":"quantitative","scale":{"domain":[-2.5,100],"nice":false,"zero":false},"axis":null}}},
{"data":{"name":"series"},"transform":[{"filter":"datum.s === 'TF'"}],"mark":{"type":"point","shape":"circle","size":8100,"filled":true,"fill":"black","opacity":1},
"encoding":{"x":{"field":"x","type":"quantitative","scale":{"domain":[0,548],"nice":false,"zero":false},"axis":null},"y":{"field":"y","type":"quantitative","scale":{"domain":[-2.5,100],"nice":false,"zero":false},"axis":null}}},
{"data":{"name":"labels"},"mark":{"type":"text","fontSize":114,"font":"Liberation Sans","align":"center","baseline":"middle","fill":"black"},
"encoding":{"x":{"field":"x","type":"quantitative","scale":{"domain":[0,548],"nice":false,"zero":false},"axis":null},"y":{"field":"y","type":"quantitative","scale":{"domain":[-2.5,100],"nice":false,"zero":false},"axis":null},"text":{"field":"t"}}},
{"data":{"name":"subs"},"mark":{"type":"text","fontSize":90,"font":"Liberation Sans","align":"center","baseline":"middle","fill":"black"},
"encoding":{"x":{"field":"x","type":"quantitative","scale":{"domain":[0,548],"nice":false,"zero":false},"axis":null},"y":{"field":"y","type":"quantitative","scale":{"domain":[-2.5,100],"nice":false,"zero":false},"axis":null},"text":{"field":"t"}}},
{"data":{"name":"title"},"mark":{"type":"text","fontSize":116,"font":"Liberation Sans","align":"center","baseline":"middle","fill":"black"},
"encoding":{"x":{"field":"x","type":"quantitative","scale":{"domain":[0,548],"nice":false,"zero":false},"axis":null},"y":{"field":"y","type":"quantitative","scale":{"domain":[-2.5,100],"nice":false,"zero":false},"axis":null},"text":{"field":"t"}}}
]
}
